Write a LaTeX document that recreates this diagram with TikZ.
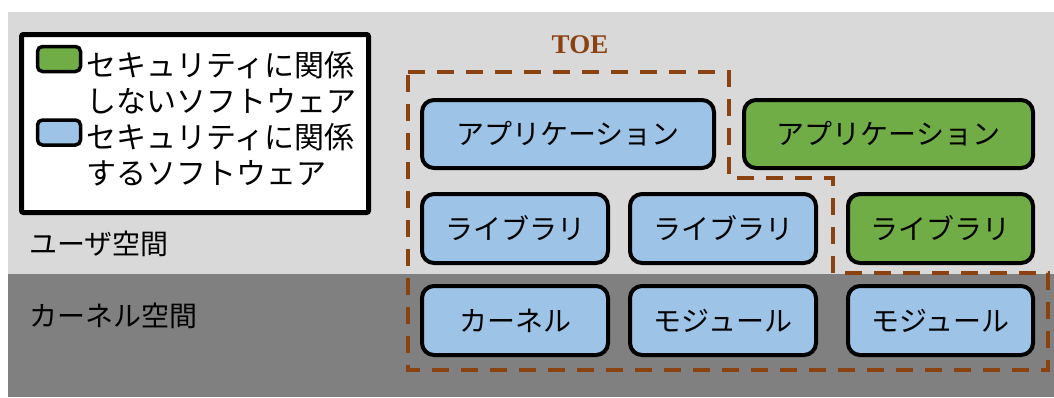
\documentclass[tikz,border=0pt]{standalone}
\usepackage{fontspec}
\setmainfont{Liberation Serif}
\newfontfamily\jp{Noto Sans CJK JP}
\definecolor{usergray}{HTML}{D9D9D9}
\definecolor{kerngray}{HTML}{808080}
\definecolor{secblue}{HTML}{9DC3E6}
\definecolor{nosecgreen}{HTML}{70AD47}
\definecolor{toebrown}{HTML}{8A4210}
\tikzset{
  swbox/.style={draw=black, line width=4pt, rounded corners=12pt, inner sep=0pt,
    font=\jp\fontsize{28}{30}\selectfont},
  bluebox/.style={swbox, fill=secblue},
  greenbox/.style={swbox, fill=nosecgreen},
  legtext/.style={anchor=west, inner sep=0pt, font=\jp\fontsize{30}{32}\selectfont},
  spacetext/.style={anchor=west, inner sep=0pt, font=\jp\fontsize{28}{30}\selectfont},
  swatch/.style={draw=black, line width=3.5pt, rounded corners=5pt, inner sep=0pt,
    minimum width=43pt, minimum height=25pt},
  toeline/.style={draw=toebrown, line width=4pt, dash pattern=on 17pt off 12pt}
}
\begin{document}
\begin{tikzpicture}[x=1pt,y=-1pt]
\useasboundingbox (0,0) rectangle (1054,397);
% backgrounds
\fill[usergray] (8,12) rectangle (1054,274);
\fill[kerngray] (8,274) rectangle (1054,397);
% legend
\node[draw=black, line width=5pt, rounded corners=2pt, fill=white, inner sep=0pt,
  minimum width=347pt, minimum height=178pt] (legend) at (195,123.5) {};
\node[swatch, fill=nosecgreen] (swg) at (59,59) {};
\node[swatch, fill=secblue] (swb) at (59,132.5) {};
\node[legtext] (l1) at (86,65) {セキュリティに関係};
\node[legtext] (l2) at (86,101) {しないソフトウェア};
\node[legtext] (l3) at (86,137) {セキュリティに関係};
\node[legtext] (l4) at (86,173) {するソフトウェア};
% space labels
\node[spacetext] (user) at (29,244) {ユーザ空間};
\node[spacetext] (kern) at (29,316) {カーネル空間};
% TOE
\node[font=\bfseries\fontsize{27}{30}\selectfont, text=toebrown, inner sep=0pt] (toe) at (580,45) {TOE};
\draw[toeline] (408,72) -- (729,72) -- (729,178) -- (833,178) -- (833,273)
  -- (1048,273) -- (1048,370) -- (408,370) -- cycle;
% row 1
\node[bluebox, minimum width=292pt, minimum height=68pt] (app1) at (568,134) {アプリケーション};
\node[greenbox, minimum width=289pt, minimum height=68pt] (app2) at (888.5,134) {アプリケーション};
% row 2
\node[bluebox, minimum width=186pt, minimum height=69pt] (lib1) at (515,228.5) {ライブラリ};
\node[bluebox, minimum width=186pt, minimum height=69pt] (lib2) at (723,228.5) {ライブラリ};
\node[greenbox, minimum width=185pt, minimum height=69pt] (lib3) at (940.5,228.5) {ライブラリ};
% row 3
\node[bluebox, minimum width=186pt, minimum height=69pt] (kernel) at (515,320.5) {カーネル};
\node[bluebox, minimum width=186pt, minimum height=69pt] (mod1) at (723,320.5) {モジュール};
\node[bluebox, minimum width=185pt, minimum height=69pt] (mod2) at (940.5,320.5) {モジュール};
\end{tikzpicture}
\end{document}
